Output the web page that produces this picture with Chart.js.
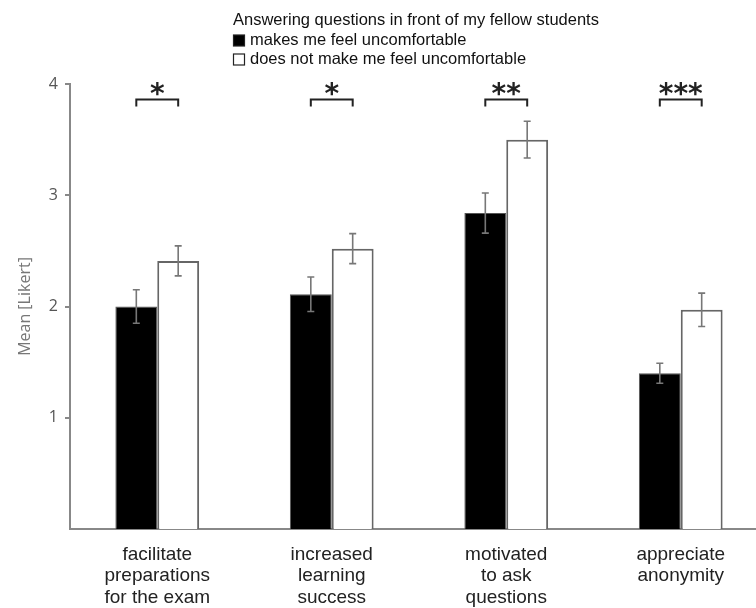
<!DOCTYPE html>
<html>
<head>
<meta charset="utf-8">
<script src="https://cdn.jsdelivr.net/npm/chart.js@4"></script>
<style>
  html, body { margin: 0; padding: 0; background: #fff; overflow: hidden; }
  #wrap { width: 770px; height: 608px; }
</style>
</head>
<body>
<div id="wrap"><canvas id="c" width="770" height="608"></canvas></div>
<script>
// ---- Data ----
const categories = [
  ['facilitate', 'preparations', 'for the exam'],
  ['increased', 'learning', 'success'],
  ['motivated', 'to ask', 'questions'],
  ['appreciate', 'anonymity']
];
const seriesNames = ['makes me feel uncomfortable', 'does not make me feel uncomfortable'];
const legendTitle = 'Answering questions in front of my fellow students';
const uncomfortable = [2.00, 2.11, 2.84, 1.40];
const notUncomfortable = [2.41, 2.52, 3.50, 1.97];
const errUncomfortable = [0.15, 0.155, 0.18, 0.09];
const errNotUncomfortable = [0.135, 0.135, 0.165, 0.15];
const significance = ['*', '*', '**', '***'];
const yTicks = [1, 2, 3, 4];
const yTitle = 'Mean [Likert]';

const errors = [errUncomfortable, errNotUncomfortable];

const overlayPlugin = {
  id: 'overlay',
  afterDatasetsDraw(chart) {
    const ctx = chart.ctx;
    const y = chart.scales.y;
    // error bars
    ctx.save();
    ctx.strokeStyle = '#777';
    ctx.lineWidth = 1.6;
    chart.data.datasets.forEach((ds, di) => {
      const meta = chart.getDatasetMeta(di);
      meta.data.forEach((bar, i) => {
        const v = ds.data[i], e = errors[di][i];
        const yTop = y.getPixelForValue(v + e), yBot = y.getPixelForValue(v - e);
        const cap = 3.5;
        ctx.beginPath();
        ctx.moveTo(bar.x, yTop); ctx.lineTo(bar.x, yBot);
        ctx.moveTo(bar.x - cap, yTop); ctx.lineTo(bar.x + cap, yTop);
        ctx.moveTo(bar.x - cap, yBot); ctx.lineTo(bar.x + cap, yBot);
        ctx.stroke();
      });
    });
    // significance brackets
    const m0 = chart.getDatasetMeta(0), m1 = chart.getDatasetMeta(1);
    const by = y.getPixelForValue(3.86);
    ctx.strokeStyle = '#222';
    ctx.lineWidth = 2;
    ctx.fillStyle = '#222';
    ctx.font = 'bold 28px "DejaVu Sans"';
    ctx.textAlign = 'center';
    ctx.textBaseline = 'alphabetic';
    significance.forEach((s, i) => {
      const x0 = m0.data[i].x, x1 = m1.data[i].x;
      ctx.beginPath();
      ctx.moveTo(x0, by + 7); ctx.lineTo(x0, by); ctx.lineTo(x1, by); ctx.lineTo(x1, by + 7);
      ctx.stroke();
      ctx.fillText(s, (x0 + x1) / 2, by + 3);
    });
    ctx.restore();
  },
  afterDraw(chart) {
    const ctx = chart.ctx;
    ctx.save();
    ctx.font = '16.5px "Liberation Sans", Arial, sans-serif';
    ctx.fillStyle = '#111';
    ctx.textBaseline = 'middle';
    ctx.textAlign = 'left';
    ctx.fillText(legendTitle, 233, 20);
    const rows = [40, 59];
    seriesNames.forEach((name, i) => {
      const ry = rows[i];
      ctx.fillStyle = i === 0 ? '#000' : '#fff';
      ctx.fillRect(233.5, ry - 5, 11, 11);
      ctx.strokeStyle = '#222';
      ctx.lineWidth = 1.2;
      ctx.strokeRect(233.5, ry - 5, 11, 11);
      ctx.fillStyle = '#111';
      ctx.fillText(name, 250, ry);
    });
    ctx.restore();
  }
};

new Chart(document.getElementById('c'), {
  type: 'bar',
  data: {
    labels: categories,
    datasets: [
      { label: seriesNames[0], data: uncomfortable, backgroundColor: '#000', borderColor: '#555', borderWidth: 1 },
      { label: seriesNames[1], data: notUncomfortable, backgroundColor: '#fff', borderColor: '#666', borderWidth: 2 }
    ]
  },
  options: {
    responsive: false,
    animation: false,
    layout: { padding: { top: 84, right: 2, left: 0, bottom: 0 } },
    plugins: { legend: { display: false }, tooltip: { enabled: false } },
    datasets: { bar: { categoryPercentage: 0.48, barPercentage: 1.0 } },
    scales: {
      x: {
        grid: { display: false },
        border: { color: '#888', width: 2 },
        ticks: {
          color: '#222',
          font: { family: '"Liberation Sans", Arial, sans-serif', size: 19, lineHeight: 1.13 },
          padding: 7,
          maxRotation: 0,
          autoSkip: false
        },
        afterFit(s) { s.height = 79; }
      },
      y: {
        min: 0, max: 4,
        afterBuildTicks(s) { s.ticks = yTicks.map(v => ({ value: v })); },
        grid: { drawOnChartArea: false, drawTicks: true, tickLength: 5, color: '#888', lineWidth: 2 },
        border: { color: '#888', width: 2 },
        ticks: {
          color: '#555',
          font: { family: '"Open Sans", sans-serif', size: 16 },
          padding: 7
        },
        title: {
          display: true,
          text: yTitle,
          color: '#777',
          font: { family: '"Open Sans", sans-serif', size: 16 },
          padding: { top: 16, bottom: 0 }
        },
        afterFit(s) { s.width = 70; }
      }
    }
  },
  plugins: [overlayPlugin]
});
</script>
</body>
</html>
